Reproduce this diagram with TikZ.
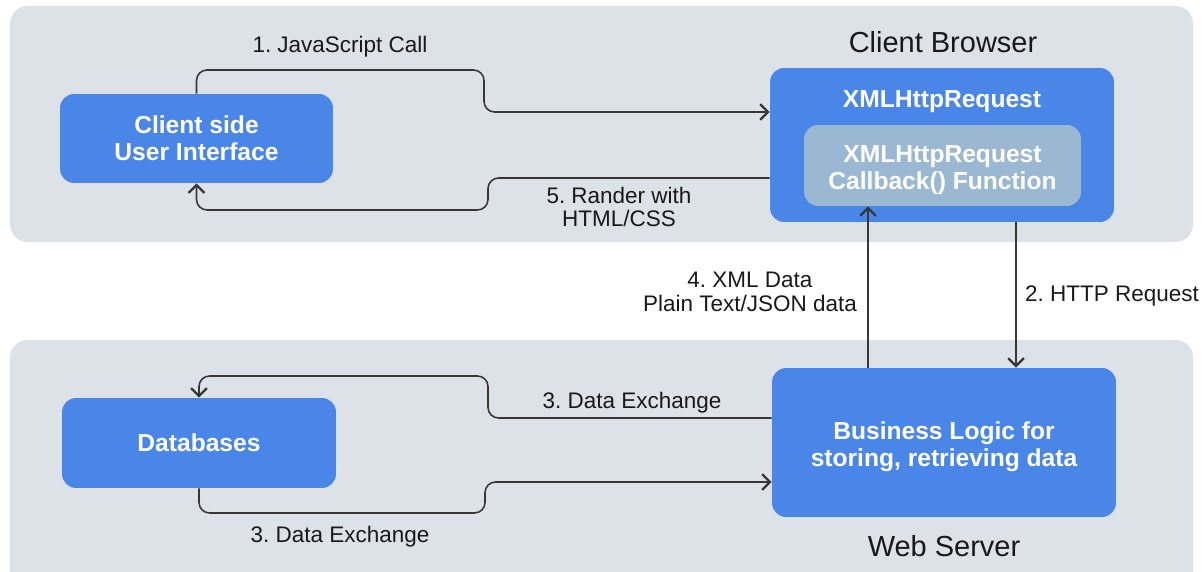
\documentclass[tikz,border=0pt]{standalone}
\usepackage{fontspec}
\setmainfont{Liberation Sans}
\frenchspacing
\usetikzlibrary{arrows.meta, calc}
\definecolor{panelgray}{RGB}{221, 225, 232}
\definecolor{boxblue}{RGB}{74, 134, 232}
\definecolor{cbblue}{RGB}{154, 184, 210}
\definecolor{linegray}{RGB}{55, 55, 55}

\begin{document}
\begin{tikzpicture}[x=0.02cm, y=0.02cm,
    >={Straight Barb[length=4.5pt,width=9pt,line width=1.3pt]},
    panel/.style={fill=panelgray, rounded corners=10pt},
    boxtext/.style={inner sep=0pt, text=white, align=center,
        font=\fontsize{14}{15.5}\selectfont\bfseries},
    bluebox/.style={boxtext, fill=boxblue, rounded corners=8pt},
    flow/.style={->, draw=linegray, line width=0.9pt, rounded corners=6pt},
    lbl/.style={text=black!90, align=center, font=\fontsize{12.8}{13.5}\selectfont},
    title/.style={text=black!90, font=\fontsize{16.5}{18}\selectfont}]

    \useasboundingbox (0,0) rectangle (1202,571);

    % ==========================================================
    % fondos: navegador arriba, servidor abajo
    % ==========================================================
    \fill[panel] (10,329) rectangle (1193,565);
    \fill[panel] (10,-20) rectangle (1193,231);

    \node[title] (browser) at (943,529) {Client Browser};
    \node[title] (server) at (944,25) {Web Server};

    % ==========================================================
    % cajas
    % ==========================================================
    \node[bluebox, minimum width=5.46cm, minimum height=1.78cm] (ui) at (196.5,432.5)
        {Client side\\User Interface};
    \node[bluebox, minimum width=6.88cm, minimum height=3.08cm] (xhr) at (942,426) {};
    \node[boxtext] (xhrtitle) at (942,469) {XMLHttpRequest};
    \node[bluebox, fill=cbblue, minimum width=5.54cm, minimum height=1.62cm] (cb) at (942.5,405.5) {};
    \node[boxtext] (cbtext) at (942.5,401) {XMLHttpRequest\\Callback() Function};

    \node[bluebox, minimum width=5.48cm, minimum height=1.8cm] (db) at (199,128) {Databases};
    \node[bluebox, minimum width=6.88cm, minimum height=2.98cm] (biz) at (944,128.5) {};
    \node[boxtext] (biztext) at (944,124) {Business Logic for\\storing, retrieving data};

    % ==========================================================
    % flechas
    % ==========================================================
    % 1. llamada desde la interfaz
    \draw[flow] (ui.north) |- (484,501) -- (484,459) -- (xhr.west |- 0,459);
    \node[lbl] (l1) at (340,524) {1. JavaScript Call};

    % 5. respuesta pintada en la interfaz
    \draw[flow] (xhr.west |- 0,393) -- (488,393) -- (488,361) -| (ui.south);
    \node[lbl] (l5) at (619,364) {5. Rander with\\HTML/CSS};

    % 2. y 4. entre navegador y servidor
    \draw[flow, rounded corners=0pt] (xhr.south -| 1016,0) -- (biz.north -| 1016,0);
    \node[lbl, anchor=west] (l2) at (1019,275) {2. HTTP Request};

    \draw[flow, rounded corners=0pt] (biz.north -| 868,0) -- (cb.south -| 868,0);
    \node[lbl, anchor=east] (l4) at (863,279) {4. XML Data\\Plain Text/JSON data};

    % 3. intercambio con la base de datos
    \draw[flow] (biz.west |- 0,153) -- (488,153) -- (488,195) -| (db.north);
    \node[lbl] (l3a) at (632,168) {3. Data Exchange};

    \draw[flow] (db.south) |- (485,58) -- (485,89) -- (biz.west |- 0,89);
    \node[lbl] (l3b) at (340,34) {3. Data Exchange};

\end{tikzpicture}
\end{document}
